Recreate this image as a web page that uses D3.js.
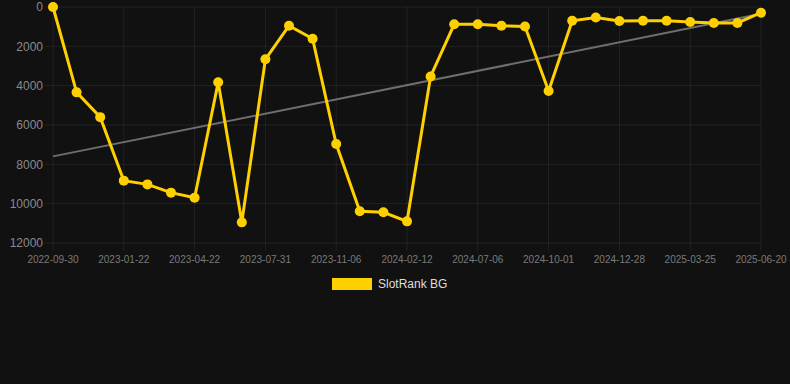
<!DOCTYPE html>
<html>
<head>
<meta charset="utf-8">
<script src="https://cdn.jsdelivr.net/npm/d3@7"></script>
<style>
  html, body { margin: 0; padding: 0; background: #111111; }
  svg { display: block; }
</style>
</head>
<body>
<div id="chart"></div>
<script>
//rank values, one per data point (31 points)
const rankValues = [0, 4340, 5600, 8830, 9020, 9440, 9700, 3830, 10950, 2660,
    950, 1610, 6970, 10390, 10440, 10900, 3530, 880, 880, 950,
    990, 4270, 700, 530, 710, 700, 700, 760, 810, 810, 290];

//the labels shown under the x axis, every 3rd point
const tickLabels = ['2022-09-30', '2023-01-22', '2023-04-22', '2023-07-31', '2023-11-06',
    '2024-02-12', '2024-07-06', '2024-10-01', '2024-12-28', '2025-03-25', '2025-06-20'];
const labelEvery = 3;

const yTicks = [0, 2000, 4000, 6000, 8000, 10000, 12000];
const seriesName = 'SlotRank BG';

const W = 790, H = 384;
const margin = { left: 53, right: 29, top: 7, bottom: 141 };
const plotW = W - margin.left - margin.right;
const plotH = H - margin.top - margin.bottom;
const gridColor = 'rgba(255,255,255,0.07)';
const yellow = '#FFD000';

const svg = d3.select('#chart').append('svg')
    .attr('width', W).attr('height', H)
    .style('font-family', 'Liberation Sans, Arial, sans-serif');

svg.append('rect').attr('width', W).attr('height', H).attr('fill', '#111111');

const g = svg.append('g').attr('transform', `translate(${margin.left},${margin.top})`);

//x: index of point -> position; last point sits at 708px
const idx = d3.range(rankValues.length);
const x = d3.scalePoint().domain(idx).range([0, 708]);
const y = d3.scaleLinear().domain([0, 12000]).range([0, plotH]);

//horizontal grid + y labels
g.append('g')
    .selectAll('line').data(yTicks).enter().append('line')
    .attr('x1', -8).attr('x2', plotW)
    .attr('y1', d => y(d)).attr('y2', d => y(d))
    .attr('stroke', gridColor).attr('stroke-width', 1);

g.append('g')
    .selectAll('text').data(yTicks).enter().append('text')
    .attr('x', -10).attr('y', d => y(d))
    .attr('dy', '0.35em')
    .attr('text-anchor', 'end')
    .attr('fill', '#8a8a8a')
    .style('font-size', '12px')
    .text(d => d);

//vertical grid at labelled points
const labelledIdx = idx.filter(i => i % labelEvery === 0);
g.append('g')
    .selectAll('line').data(labelledIdx).enter().append('line')
    .attr('x1', d => x(d)).attr('x2', d => x(d))
    .attr('y1', 0).attr('y2', plotH + 8)
    .attr('stroke', gridColor).attr('stroke-width', 1);

g.append('g')
    .selectAll('text').data(labelledIdx).enter().append('text')
    .attr('x', d => x(d)).attr('y', plotH + 16)
    .attr('dy', '0.35em')
    .attr('text-anchor', 'middle')
    .attr('fill', '#7a7a7a')
    .style('font-size', '10px')
    .text((d, i) => tickLabels[i]);

//least squares trend over the series
const n = rankValues.length;
const mx = d3.mean(idx), my = d3.mean(rankValues);
const slope = d3.sum(idx, i => (i - mx) * (rankValues[i] - my)) / d3.sum(idx, i => (i - mx) * (i - mx));
const icpt = my - slope * mx;
g.append('line')
    .attr('x1', x(0)).attr('y1', y(icpt))
    .attr('x2', x(n - 1)).attr('y2', y(icpt + slope * (n - 1)))
    .attr('stroke', '#6e6e6e').attr('stroke-width', 2);

//series line and points
const line = d3.line().x(d => x(d)).y(d => y(rankValues[d]));
g.append('path')
    .datum(idx)
    .attr('d', line)
    .attr('fill', 'none')
    .attr('stroke', yellow)
    .attr('stroke-width', 3)
    .attr('stroke-linejoin', 'miter');

g.append('g')
    .selectAll('circle').data(idx).enter().append('circle')
    .attr('cx', d => x(d)).attr('cy', d => y(rankValues[d]))
    .attr('r', 5)
    .attr('fill', yellow);

//legend
const legend = svg.append('g').attr('transform', 'translate(332,278)');
legend.append('rect').attr('width', 40).attr('height', 12).attr('fill', yellow);
legend.append('text')
    .attr('x', 46).attr('y', 6).attr('dy', '0.35em')
    .attr('fill', '#dddddd')
    .style('font-size', '12px')
    .text(seriesName);
</script>
</body>
</html>
